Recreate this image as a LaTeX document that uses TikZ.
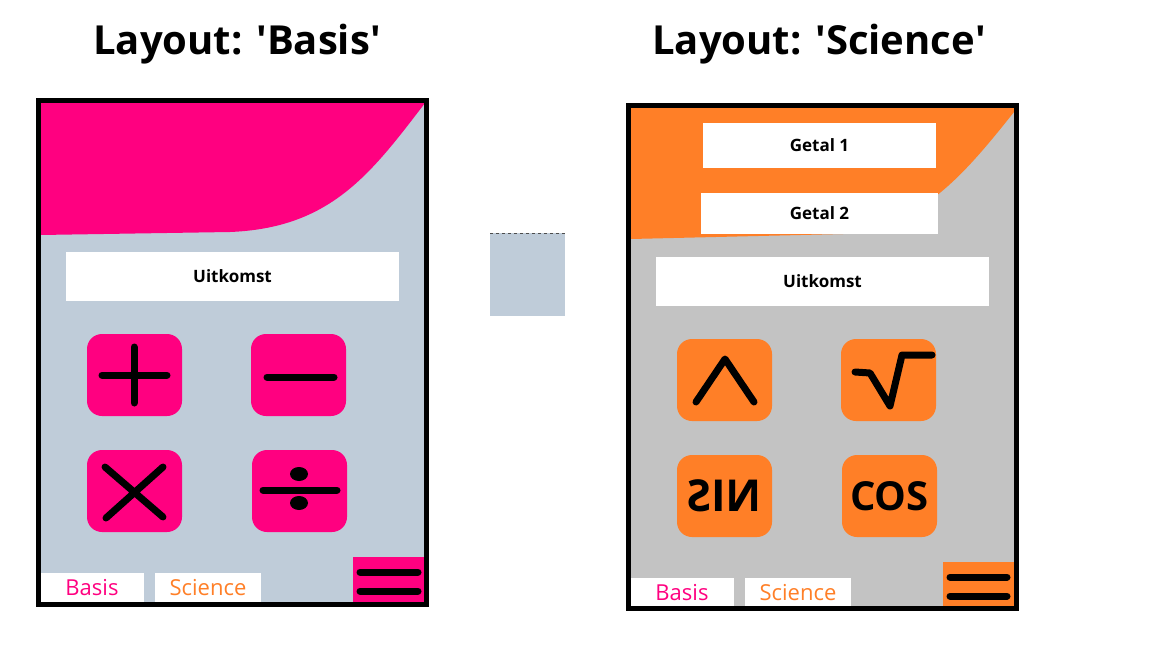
\documentclass[tikz,border=0pt]{standalone}
\usepackage{fontspec}
\usepackage{graphicx}
\setmainfont{Open Sans}
\definecolor{basispink}{RGB}{255,0,128}
\definecolor{sciorange}{RGB}{255,127,39}
\definecolor{basisgray}{RGB}{191,204,217}
\definecolor{scigray}{RGB}{195,195,195}
\tikzset{
  phoneframe/.style={draw=black, line width=5pt},
  field/.style={fill=white, draw=none},
  calcbtn/.style={draw=none, rounded corners=15pt},
  iconline/.style={draw=black, line width=7pt, line cap=round, line join=round},
  fieldtext/.style={font=\bfseries\fontsize{17}{20}\selectfont},
  tabtext/.style={font=\fontsize{22}{26}\selectfont},
  titletext/.style={font=\bfseries\fontsize{40}{48}\selectfont}
}
\begin{document}
\begin{tikzpicture}[x=1pt,y=-1pt]
        \useasboundingbox (0,0) rectangle (1152,648);

        % layout basis
        \node[titletext] (titleBasis) at (237,44) {Layout: \textquotesingle Basis\textquotesingle};
        \fill[basisgray] (40,103) rectangle (425,602); %background
        \fill[basispink] (40,103) -- (425,103) .. controls (370,175) and (330,228) .. (230,232) -- (40,235) -- cycle; %header
        \draw[field] (66,252) rectangle (399,301) node[pos=.5, fieldtext] (uitBasis) {Uitkomst}; %uitkomst

        \draw[calcbtn, fill=basispink] (87,334) rectangle (182,416); %plus
        \draw[iconline] (134,347) -- (134,403) (102,375) -- (167,375);
        \draw[calcbtn, fill=basispink] (251,334) rectangle (346,416); %minus
        \draw[iconline] (267,377) -- (334,377);
        \draw[calcbtn, fill=basispink] (87,450) rectangle (182,532); %times
        \draw[iconline] (105,467) -- (163,517) (163,467) -- (106,518);
        \draw[calcbtn, fill=basispink] (252,450) rectangle (347,532); %divide
        \draw[iconline] (263,490) -- (337,490);
        \fill[black] (299,474) ellipse [x radius=9, y radius=7];
        \fill[black] (299,503) ellipse [x radius=9, y radius=7];

        \draw[field] (40,573) rectangle (144,602) node[pos=.5, tabtext, text=basispink] (tabBasisA) {Basis}; %tab basis
        \draw[field] (155,573) rectangle (261,602) node[pos=.5, tabtext, text=sciorange] (tabSciA) {Science}; %tab science
        \fill[basispink] (353,557) rectangle (425,602); %menu
        \draw[iconline] (360,572) -- (418,572) (360,591) -- (418,591);
        \draw[phoneframe] (38.5,100) rectangle (426.5,604);

        % middle swatch
        \fill[basisgray] (490,233) rectangle (565,316);
        \draw[dashed, black!70, line width=0.8pt] (490,233) -- (565,233);

        % layout science
        \node[titletext] (titleScience) at (819,44) {Layout: \textquotesingle Science\textquotesingle};
        \fill[scigray] (631,108) rectangle (1014,607); %background
        \fill[sciorange] (631,108) -- (1014,108) -- (1014,112) .. controls (960,180) and (920,225) .. (843,234) -- (631,239) -- cycle; %header
        \draw[field] (703,123) rectangle (936,168) node[pos=.5, fieldtext] (getal1) {Getal 1}; %getal 1
        \draw[field] (701,193) rectangle (938,234) node[pos=.5, fieldtext] (getal2) {Getal 2}; %getal 2
        \draw[field] (656,257) rectangle (989,306) node[pos=.5, fieldtext] (uitScience) {Uitkomst}; %uitkomst

        \draw[calcbtn, fill=sciorange] (677,339) rectangle (772,421); %power
        \draw[iconline] (696,402) -- (725,359) -- (754,402);
        \draw[calcbtn, fill=sciorange] (841,339) rectangle (936,421); %sqrt
        \draw[iconline] (855,372) -- (870,373) -- (890,406) -- (902,355) -- (932,355);
        \draw[calcbtn, fill=sciorange] (677,455) rectangle (772,537) node[pos=.5, font=\bfseries\fontsize{44}{48}\selectfont] (sinBtn) {\reflectbox{S}I\reflectbox{N}}; %sin
        \draw[calcbtn, fill=sciorange] (842,455) rectangle (937,537) node[pos=.5, font=\bfseries\fontsize{40}{44}\selectfont] (cosBtn) {COS}; %cos

        \draw[field] (630,578) rectangle (734,607) node[pos=.5, tabtext, text=basispink] (tabBasisB) {Basis}; %tab basis
        \draw[field] (745,578) rectangle (851,607) node[pos=.5, tabtext, text=sciorange] (tabSciB) {Science}; %tab science
        \fill[sciorange] (943,562) rectangle (1014,607); %menu
        \draw[iconline] (950,577) -- (1007,577) (950,596) -- (1007,596);
        \draw[phoneframe] (628.5,105.5) rectangle (1016,608.5);
    \end{tikzpicture}
\end{document}
